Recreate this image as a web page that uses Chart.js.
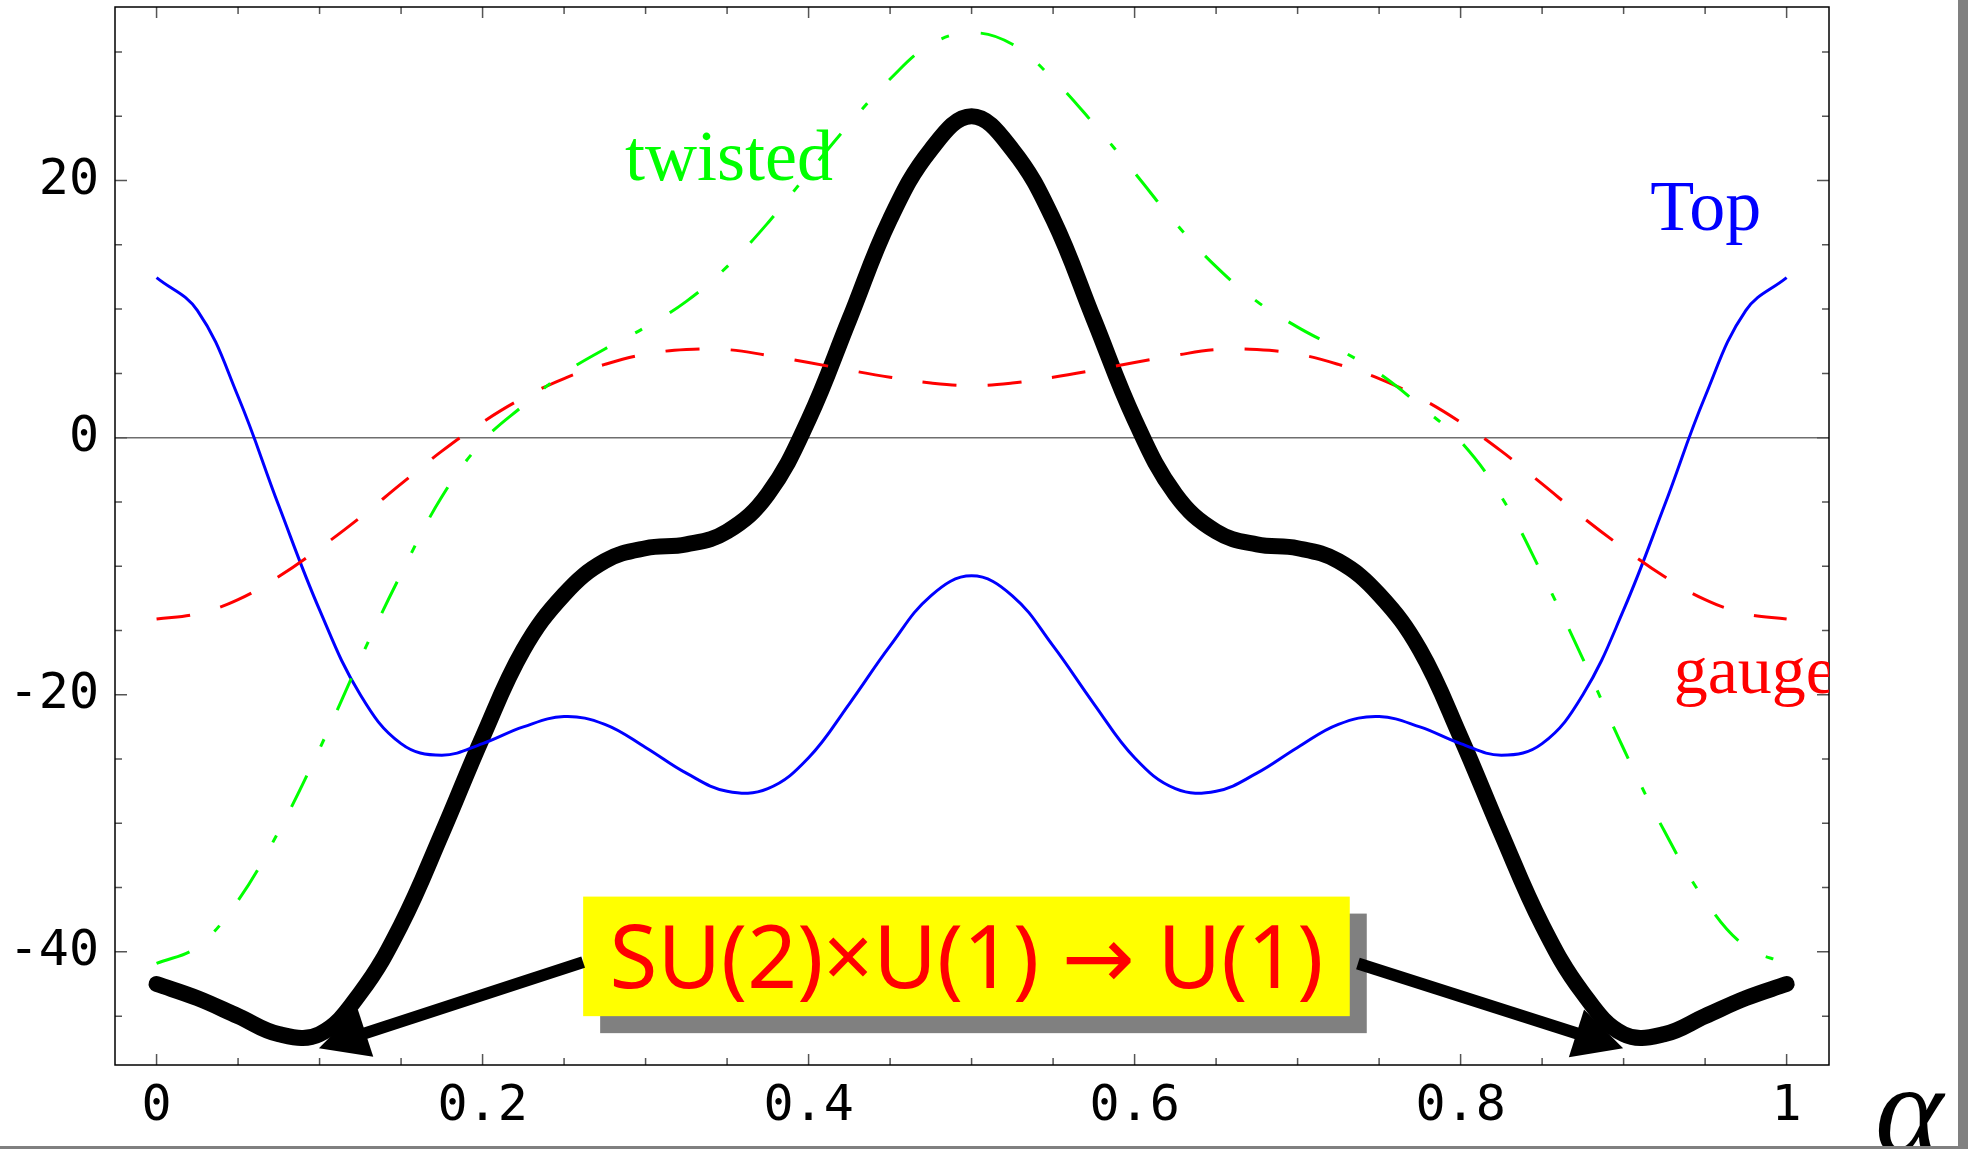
<!DOCTYPE html>
<html>
<head>
<meta charset="utf-8">
<script src="https://cdn.jsdelivr.net/npm/chart.js@4.4.1/dist/chart.umd.min.js"></script>
<style>
html,body{margin:0;padding:0;background:#fff;overflow:hidden}
canvas{display:block}
</style>
</head>
<body>
<canvas id="c" width="1968" height="1149"></canvas>
<script>
// ---- data ----
const alpha = [0,0.025,0.05,0.075,0.1,0.125,0.15,0.175,0.2,0.225,0.25,0.275,0.3,0.325,0.35,0.375,0.4,0.425,0.45,0.475,0.5,
               0.525,0.55,0.575,0.6,0.625,0.65,0.675,0.7,0.725,0.75,0.775,0.8,0.825,0.85,0.875,0.9,0.925,0.95,0.975,1];

const totalValues = [-42.5,-43.6,-45.0,-46.4,-46.4,-43.2,-37.9,-30.8,-23.3,-16.5,-12.2,-9.6,-8.6,-8.3,-7.3,-4.4,1.4,9.2,17.0,22.4,25.0,
                     22.4,17.0,9.2,1.4,-4.4,-7.3,-8.3,-8.6,-9.6,-12.2,-16.5,-23.3,-30.8,-37.9,-43.2,-46.4,-46.4,-45.0,-43.6,-42.5];

const topValues = [12.45,9.9,3.2,-5.3,-13.4,-20.0,-23.8,-24.7,-23.8,-22.5,-21.7,-22.3,-24.1,-26.1,-27.5,-27.3,-24.9,-20.7,-16.2,-12.3,-10.75,
                   -12.3,-16.2,-20.7,-24.9,-27.3,-27.5,-26.1,-24.1,-22.3,-21.7,-22.5,-23.8,-24.7,-23.8,-20.0,-13.4,-5.3,3.2,9.9,12.45];

const gaugeValues = [-14.1,-13.7,-12.6,-10.8,-8.6,-6.2,-3.6,-1.05,1.2,3.1,4.6,5.7,6.5,6.85,6.85,6.4,5.85,5.25,4.7,4.25,4.05,
                     4.25,4.7,5.25,5.85,6.4,6.85,6.85,6.5,5.7,4.6,3.1,1.2,-1.05,-3.6,-6.2,-8.6,-10.8,-12.6,-13.7,-14.1];

const twistedValues = [-40.9,-39.6,-36.0,-30.6,-24.2,-17.2,-10.6,-4.6,-0.3,2.5,5.0,6.9,8.6,10.6,13.3,16.7,20.6,24.4,27.9,30.6,31.5,
                       30.6,27.9,24.4,20.6,16.7,13.3,10.6,8.6,6.9,5.0,2.5,-0.3,-4.6,-10.6,-17.2,-24.2,-30.6,-36.0,-39.6,-40.9];

const xTickValues = [0,0.2,0.4,0.6,0.8,1];
const xTickLabels = ['0','0.2','0.4','0.6','0.8','1'];
const yTickValues = [-40,-20,0,20];
const yTickLabels = ['-40','-20','0','20'];
const xMinorTicks = [0,0.05,0.1,0.15,0.2,0.25,0.3,0.35,0.4,0.45,0.5,0.55,0.6,0.65,0.7,0.75,0.8,0.85,0.9,0.95,1];
const yMinorTicks = [-45,-40,-35,-30,-25,-20,-15,-10,-5,0,5,10,15,20,25,30];

const curveLabels = ['twisted','gauge','Top'];
const boxText = 'SU(2)×U(1) → U(1)';
const axisLabel = 'α';

// ---- helpers ----
const pts = vals => alpha.map((a, i) => ({x: a, y: vals[i]}));

const frameTicks = {
  id: 'frameTicks',
  beforeDatasetsDraw(chart) {
    const {ctx, chartArea: a, scales: {x, y}} = chart;
    ctx.save();
    const y0 = y.getPixelForValue(0);
    ctx.strokeStyle = '#6e6e6e';
    ctx.lineWidth = 1.5;
    ctx.beginPath(); ctx.moveTo(a.left, y0); ctx.lineTo(a.right, y0); ctx.stroke();
    ctx.strokeStyle = '#555';
    ctx.lineWidth = 1.5;
    ctx.beginPath();
    xMinorTicks.forEach(v => {
      const px = x.getPixelForValue(v);
      const len = xTickValues.includes(v) ? 11 : 7;
      ctx.moveTo(px, a.bottom); ctx.lineTo(px, a.bottom - len);
      ctx.moveTo(px, a.top); ctx.lineTo(px, a.top + len);
    });
    yMinorTicks.forEach(v => {
      const py = y.getPixelForValue(v);
      const len = yTickValues.includes(v) ? 12 : 7;
      ctx.moveTo(a.left, py); ctx.lineTo(a.left + len, py);
      ctx.moveTo(a.right, py); ctx.lineTo(a.right - len, py);
    });
    ctx.stroke();
    ctx.strokeStyle = '#000';
    ctx.lineWidth = 1.5;
    ctx.strokeRect(a.left, a.top, a.right - a.left, a.bottom - a.top);
    ctx.restore();
  }
};

function arrow(ctx, x1, y1, x2, y2, lw, headLen, headW) {
  const dx = x2 - x1, dy = y2 - y1, L = Math.hypot(dx, dy);
  const ux = dx / L, uy = dy / L;
  const bx = x2 - ux * headLen, by = y2 - uy * headLen;
  ctx.lineWidth = lw;
  ctx.lineCap = 'butt';
  ctx.beginPath(); ctx.moveTo(x1, y1); ctx.lineTo(bx + ux * 4, by + uy * 4); ctx.stroke();
  ctx.beginPath();
  ctx.moveTo(x2, y2);
  ctx.lineTo(bx - uy * headW / 2, by + ux * headW / 2);
  ctx.lineTo(bx + uy * headW / 2, by - ux * headW / 2);
  ctx.closePath(); ctx.fill();
}

const annotations = {
  id: 'annotations',
  afterDatasetsDraw(chart) {
    const {ctx, chartArea: a, scales: {x, y}} = chart;
    ctx.save();
    ctx.textBaseline = 'alphabetic';
    ctx.textAlign = 'left';
    ctx.font = '72px "Liberation Serif", "DejaVu Serif", serif';
    ctx.fillStyle = '#00ff00';
    ctx.fillText(curveLabels[0], x.getPixelForValue(0.2874), y.getPixelForValue(20.05));
    ctx.fillStyle = '#0000ff';
    ctx.fillText(curveLabels[2], x.getPixelForValue(0.9163), y.getPixelForValue(16.16));
    ctx.save();
    ctx.beginPath(); ctx.rect(a.left, a.top, a.right - a.left, a.bottom - a.top); ctx.clip();
    ctx.font = '68px "Liberation Serif", "DejaVu Serif", serif';
    ctx.fillStyle = '#ff0000';
    ctx.fillText(curveLabels[1], x.getPixelForValue(0.9307), y.getPixelForValue(-19.87));
    ctx.restore();

    const bx0 = x.getPixelForValue(0.2617), bx1 = x.getPixelForValue(0.732);
    const by0 = y.getPixelForValue(-35.7), by1 = y.getPixelForValue(-45.0);
    ctx.fillStyle = '#808080';
    ctx.fillRect(bx0 + 17, by0 + 17, bx1 - bx0, by1 - by0);
    ctx.fillStyle = '#ffff00';
    ctx.fillRect(bx0, by0, bx1 - bx0, by1 - by0);
    let fs = 86;
    ctx.font = fs + 'px "Noto Sans", "DejaVu Sans", sans-serif';
    const w = ctx.measureText(boxText).width;
    fs = fs * 714 / w;
    if (fs > 92) fs = 92;
    ctx.font = fs.toFixed(1) + 'px "Noto Sans", "DejaVu Sans", sans-serif';
    ctx.fillStyle = '#ff0000';
    ctx.textAlign = 'center';
    ctx.fillText(boxText, (bx0 + bx1) / 2, by0 + 91);

    ctx.fillStyle = '#000';
    ctx.strokeStyle = '#000';
    arrow(ctx, x.getPixelForValue(0.2617), y.getPixelForValue(-40.8), x.getPixelForValue(0.0996), y.getPixelForValue(-47.5), 12, 49, 50);
    arrow(ctx, x.getPixelForValue(0.737), y.getPixelForValue(-40.9), x.getPixelForValue(0.8997), y.getPixelForValue(-47.5), 12, 49, 50);
    ctx.restore();
  },
  afterDraw(chart) {
    const {ctx, chartArea: a, width, height} = chart;
    ctx.save();
    ctx.fillStyle = '#000';
    ctx.textAlign = 'left';
    ctx.textBaseline = 'alphabetic';
    ctx.font = 'italic 130px "Liberation Serif", "DejaVu Serif", serif';
    ctx.fillText(axisLabel, a.right + 46, 1153);
    ctx.fillStyle = '#808080';
    ctx.fillRect(width - 10, 0, 10, height);
    ctx.fillRect(0, height - 3, width, 3);
    ctx.restore();
  }
};

new Chart(document.getElementById('c'), {
  type: 'line',
  data: {
    datasets: [
      {label: 'twisted', data: pts(twistedValues), borderColor: '#00ff00', borderWidth: 3, borderDash: [35, 32, 8, 32]},
      {label: 'gauge', data: pts(gaugeValues), borderColor: '#ff0000', borderWidth: 3, borderDash: [34, 31]},
      {label: 'Top', data: pts(topValues), borderColor: '#0000ff', borderWidth: 3},
      {label: 'total', data: pts(totalValues), borderColor: '#000000', borderWidth: 16, borderCapStyle: 'round', borderJoinStyle: 'round'}
    ]
  },
  options: {
    responsive: false,
    animation: false,
    devicePixelRatio: 1,
    elements: {point: {radius: 0}, line: {tension: 0.4, fill: false}},
    layout: {padding: {top: 7, right: 139, left: 0, bottom: 0}},
    plugins: {legend: {display: false}, tooltip: {enabled: false}},
    scales: {
      x: {
        type: 'linear', min: -0.0255, max: 1.026,
        afterFit(s) { s.height = 84; s.paddingLeft = 0; s.paddingRight = 0; },
        afterBuildTicks(s) { s.ticks = xTickValues.map(v => ({value: v})); },
        grid: {display: false, drawTicks: false},
        border: {display: false},
        ticks: {font: {family: 'DejaVu Sans Mono', size: 50}, color: '#000', padding: 12, maxRotation: 0, autoSkip: false,
                callback: (v, i) => xTickLabels[i]}
      },
      y: {
        type: 'linear', min: -48.8, max: 33.5,
        afterFit(s) { s.width = 115; s.paddingTop = 0; s.paddingBottom = 0; },
        afterBuildTicks(s) { s.ticks = yTickValues.map(v => ({value: v})); },
        grid: {display: false, drawTicks: false},
        border: {display: false},
        ticks: {font: {family: 'DejaVu Sans Mono', size: 50}, color: '#000', padding: 16, autoSkip: false,
                callback: (v, i) => yTickLabels[i]}
      }
    }
  },
  plugins: [frameTicks, annotations]
});
</script>
</body>
</html>
